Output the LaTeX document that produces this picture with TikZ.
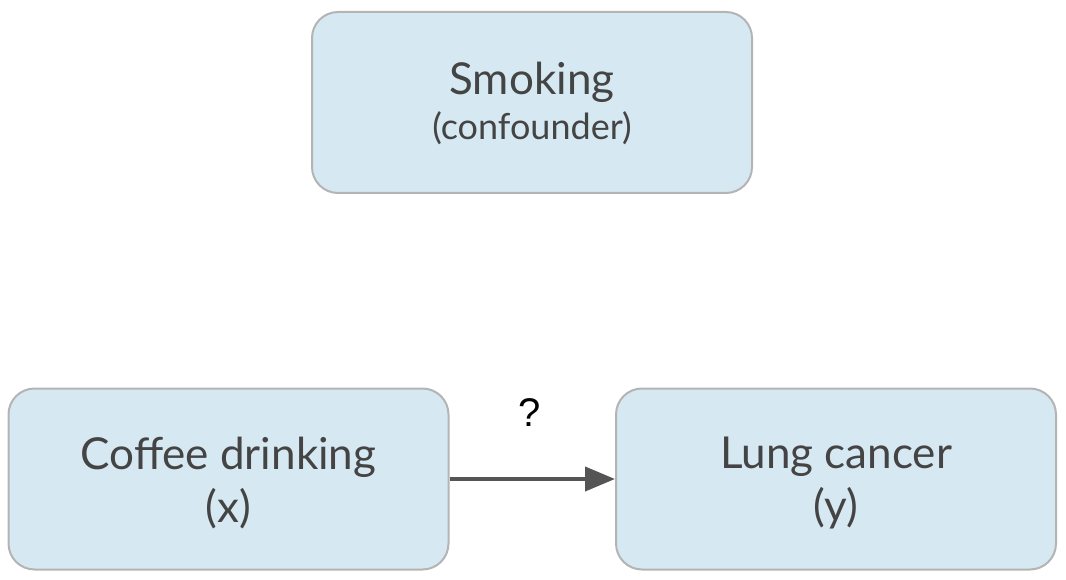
\documentclass[tikz,border=0pt]{standalone}
\usepackage{fontspec}
\setmainfont{Lato}
\newfontfamily\qfont{Liberation Sans}
\usetikzlibrary{arrows.meta}
\definecolor{boxfill}{HTML}{D6E8F1}
\definecolor{boxdraw}{HTML}{B4B4B4}
\definecolor{txt}{HTML}{444444}
\definecolor{arr}{HTML}{555555}
\tikzset{
  varbox/.style={draw=boxdraw, line width=2pt, fill=boxfill, rounded corners=26pt,
    minimum width=440pt, minimum height=181pt, inner sep=0pt},
  boxtext/.style={align=center, text=txt, font=\fontsize{44}{53}\selectfont, inner sep=0pt},
  causal/.style={draw=arr, line width=4pt, -{Triangle[length=30pt,width=24pt]}}
}
\begin{document}
\begin{tikzpicture}[x=1pt,y=-1pt]
\useasboundingbox (0,0) rectangle (1066,580);
\node[varbox] (smk) at (532,102.5) {};
\node[boxtext] (smkt) at ([yshift=-1pt]smk.center) {Smoking\\[-8pt]{\fontsize{36}{40}\selectfont (confounder)}};
\node[varbox] (cof) at (228.5,479) {};
\node[boxtext] (coft) at ([yshift=-4pt]cof.center) {Coffee drinking\\(x)};
\node[varbox] (lung) at (836,479) {};
\node[boxtext] (lungt) at ([yshift=-4pt]lung.center) {Lung cancer\\(y)};
\draw[causal] (cof.east) -- (lung.west);
\node[font=\qfont\fontsize{40}{40}\selectfont, text=black, inner sep=0pt] (q) at (530,413) {?};
\end{tikzpicture}
\end{document}
